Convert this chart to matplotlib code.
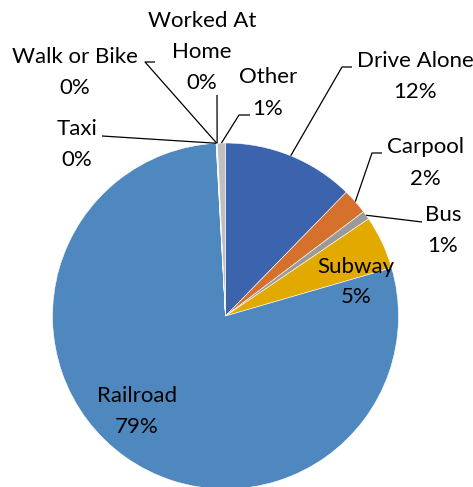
import matplotlib
matplotlib.use("Agg")
import matplotlib.pyplot as plt
import numpy as np

categories = ["Drive Alone", "Carpool", "Bus", "Subway", "Railroad",
              "Taxi", "Walk or Bike", "Worked At Home", "Other"]
values = [12.3, 2.4, 0.8, 5.0, 78.6, 0.04, 0.04, 0.04, 0.75]
pct_labels = ["12%", "2%", "1%", "5%", "79%", "0%", "0%", "0%", "1%"]
colors = ["#3C63AD", "#D5712C", "#9A9A9A", "#E2A900", "#4E88BF",
          "#5D8CC4", "#8FA9CC", "#A9B5C8", "#BFBFBF"]

W, H = 473, 487
fig = plt.figure(figsize=(W / 100, H / 100), dpi=100)
ax = fig.add_axes([0, 0, 1, 1])

def P(px, py):
    return (px, H - py)

cx, cy = P(225.5, 316)
R = 173
wedges, _ = ax.pie(values, colors=colors, startangle=90, counterclock=False,
                   center=(cx, cy), radius=R,
                   wedgeprops=dict(edgecolor="white", linewidth=0.4))
ax.set_xlim(0, W)
ax.set_ylim(0, H)
ax.set_aspect("auto")
ax.axis("off")

FONT = "Lato"
FS = 16

def edge_point(i):
    w = wedges[i]
    ang = np.deg2rad((w.theta1 + w.theta2) / 2)
    return (cx + R * np.cos(ang), cy + R * np.sin(ang))

# label lines: text with baseline (pixels), label x-center
label_layout = {
    0: (415, [(categories[0], 67), (pct_labels[0], 98)]),
    1: (425, [(categories[1], 153), (pct_labels[1], 185)]),
    2: (443, [(categories[2], 221), (pct_labels[2], 252)]),
    3: (356, [(categories[3], 273), (pct_labels[3], 303)]),
    4: (137, [(categories[4], 402), (pct_labels[4], 433)]),
    5: (77, [(categories[5], 135), (pct_labels[5], 166)]),
    6: (75, [(categories[6], 63), (pct_labels[6], 94)]),
    7: (202, [("Worked At", 27), ("Home", 58), (pct_labels[7], 89)]),
    8: (268, [(categories[8], 83), (pct_labels[8], 115)]),
}
for i, (xc, lines) in label_layout.items():
    for txt, by in lines:
        ax.text(*P(xc, by), txt, ha="center", va="baseline",
                fontsize=FS, family=FONT, color="black")

# leader lines: elbow points (pixel coords) from label side
leaders = {
    0: [(352, 67), (342, 67)],
    1: [(382, 153), (372, 153)],
    2: [(422, 222)],
    5: [(102, 136)],
    6: [(155, 62), (145, 62)],
    7: [(217, 95)],
    8: [(250, 115), (239, 115)],
}
for i, pts in leaders.items():
    ex, ey = edge_point(i)
    xs = [ex] + [P(*p)[0] for p in reversed(pts)]
    ys = [ey] + [P(*p)[1] for p in reversed(pts)]
    ax.plot(xs, ys, color="black", lw=0.9, solid_capstyle="butt")

fig.savefig("out.png", dpi=100)
